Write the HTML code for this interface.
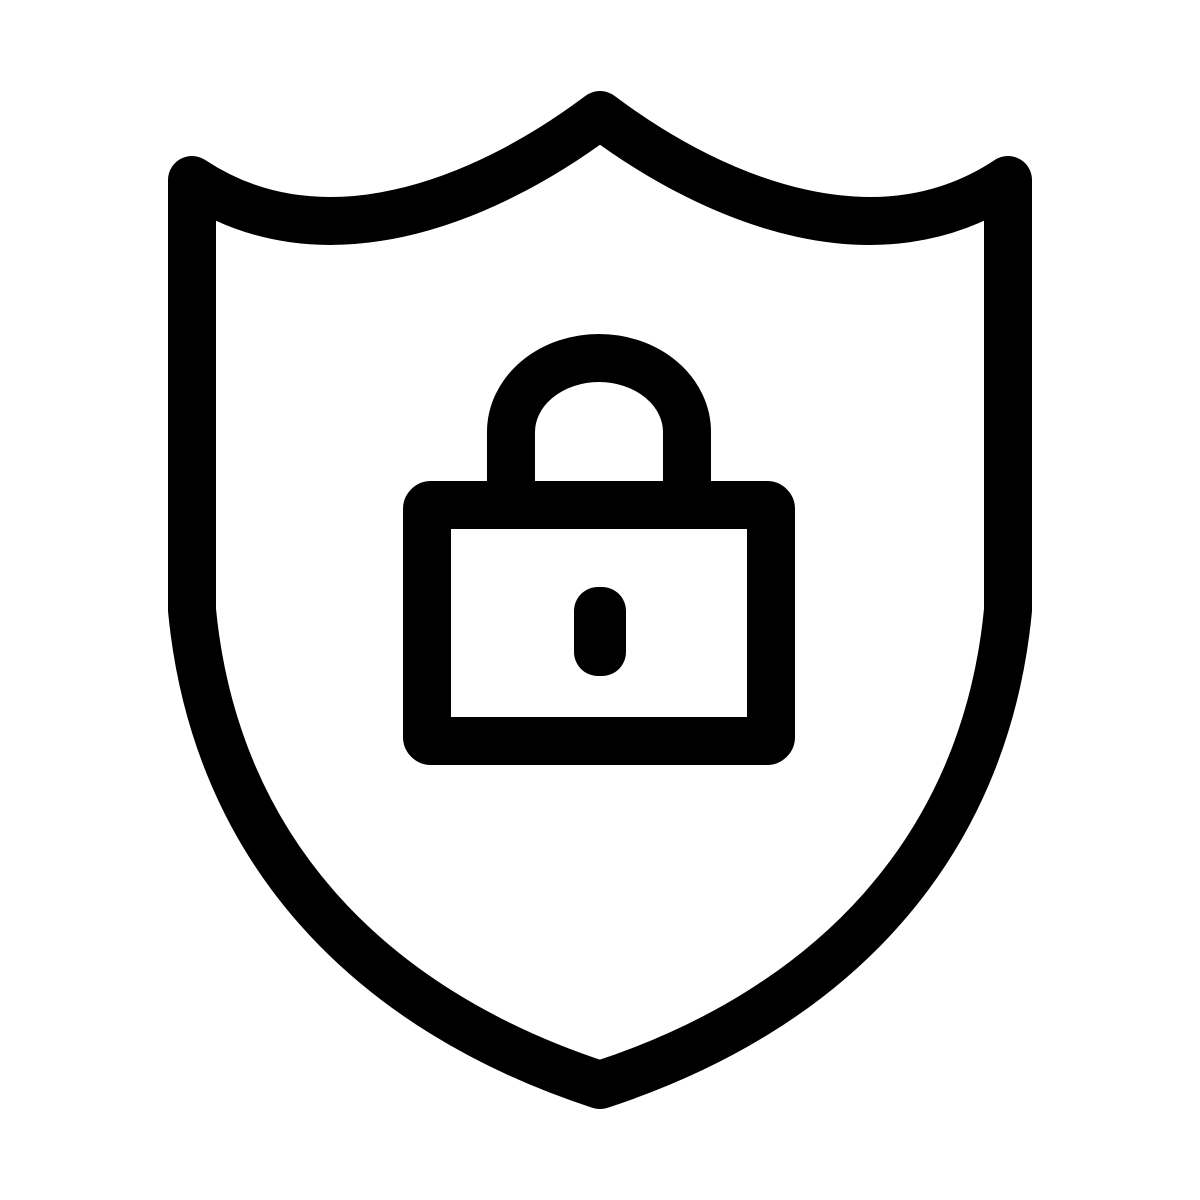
<!DOCTYPE html>
<html><head><style>html,body{margin:0;padding:0;background:#fff;}svg{display:block}</style></head>
<body>
<svg width="1200" height="1200" viewBox="0 0 1200 1200" xmlns="http://www.w3.org/2000/svg">
<rect width="1200" height="1200" fill="#fff"/>
<g fill="none" stroke="#000" stroke-width="48" stroke-linejoin="round" stroke-linecap="round">
<path d="M600,115 C480,205 320,265 192,180 V610 C215,850 370,1010 600,1085 C830,1010 985,850 1008,610 V180 C880,265 720,205 600,115 Z"/>
<rect x="427" y="505" width="344" height="236" rx="4"/>
<path d="M511,481 V432 A88,74 0 0 1 687,432 V481"/>
</g>
<rect x="574" y="587" width="52" height="89" rx="24" fill="#000"/>
</svg>
</body></html>
